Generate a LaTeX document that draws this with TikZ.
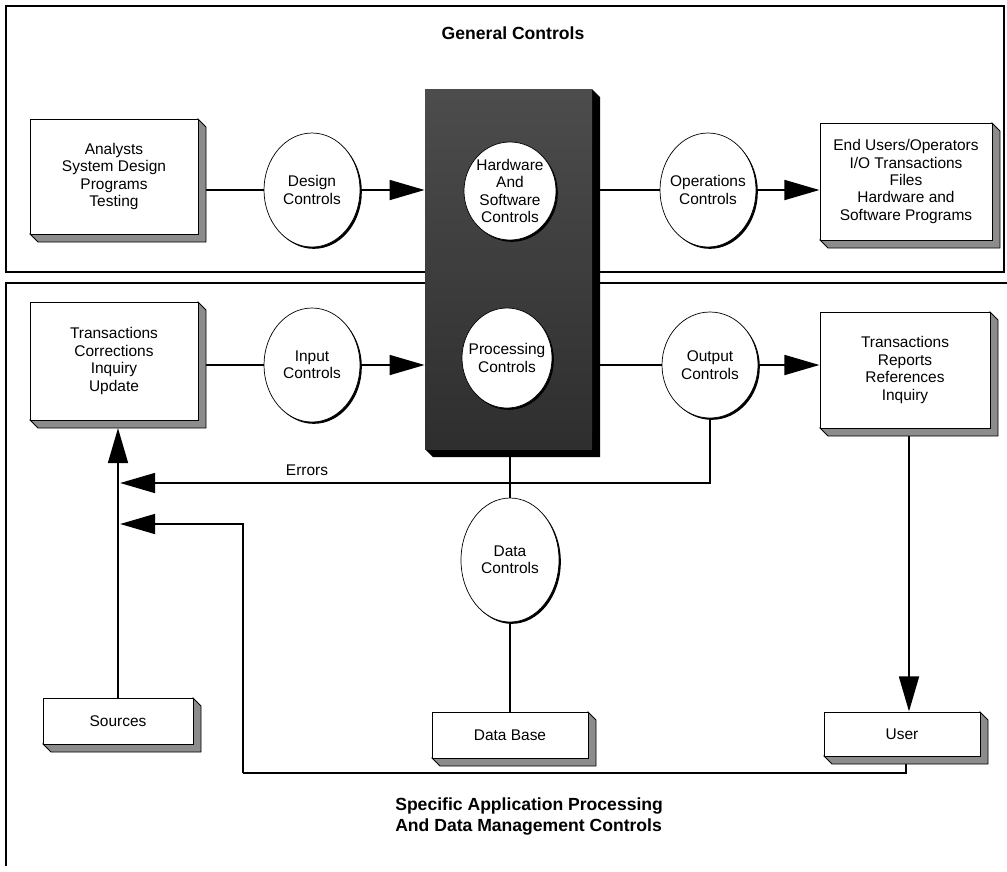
\documentclass[tikz,border=0pt]{standalone}
\usepackage{fontspec}
\setmainfont{Liberation Sans}
\usetikzlibrary{arrows.meta,shadows,shapes.geometric,backgrounds}
\def\pxu{0.025cm}
\tikzset{
  txt/.style={font=\fontsize{11}{12.4}\selectfont, align=center, inner sep=0pt},
  frontface/.style={draw=black, line width=0.6pt, fill=white, inner sep=0pt},
  sideface/.style={fill=black!45, draw=black, line width=0.6pt},
  ctl/.style={ellipse, draw=black, line width=0.5pt, fill=white, inner sep=0pt,
    drop shadow={shadow xshift=1.3pt, shadow yshift=-1.3pt, opacity=1, fill=black}},
  conn/.style={line width=2pt},
  arr/.style={line width=2pt, -{Triangle[length=25pt,width=14pt]}},
  frame/.style={line width=0.8pt},
  ttl/.style={font=\bfseries\fontsize{12.5}{15}\selectfont, inner sep=0pt},
}
\newcommand{\tdbox}[6]{%
  \filldraw[sideface] (#4,#3) -- (#4+8,#3+8) -- (#4+8,#5+8) -- (#2+8,#5+8) -- (#2,#5) -- (#4,#5) -- cycle;
  \node[frontface, minimum width={(#4-#2)*\pxu}, minimum height={(#5-#3)*\pxu}] (#1) at ({(#2+#4)/2},{(#3+#5)/2}) {};
  \node[txt] (#1-t) at (#1) {#6};
  \coordinate (#1-sb) at ({(#2+#4)/2+4},#5+8);
}
\newcommand{\ctlnode}[6]{%
  \node[ctl, minimum width={2*#4*\pxu}, minimum height={2*#5*\pxu}] (#1) at (#2,#3) {};
  \node[txt] (#1-t) at (#1) {#6};
}
\begin{document}
\begin{tikzpicture}[x=\pxu, y=-\pxu]
\useasboundingbox (0,0) rectangle (1007,871);

% 3D boxes
\tdbox{ana}{30}{119}{198}{234}{Analysts\\System Design\\Programs\\Testing}
\tdbox{endu}{820}{123}{992}{240}{End Users/Operators\\I/O Transactions\\Files\\Hardware and\\Software Programs}
\tdbox{trl}{30}{302}{198}{420}{Transactions\\Corrections\\Inquiry\\Update}
\tdbox{trr}{820}{312}{990}{428}{Transactions\\Reports\\References\\Inquiry}
\tdbox{src}{43}{698}{193}{744}{Sources}
\tdbox{db}{432}{712}{588}{758}{Data Base}
\tdbox{usr}{824}{712}{980}{756}{User}

% central dark block
\fill[black] (425,89) -- (592,89) -- (600,97) -- (600,457) -- (433,457) -- (425,449) -- cycle;
\node[inner sep=0pt, minimum width={167*\pxu}, minimum height={360*\pxu}, top color=black!70, bottom color=black!82] (cpu) at (508.5,269) {};

% control ellipses
\ctlnode{design}{312}{190}{48}{57}{Design\\Controls}
\ctlnode{hw}{510}{191}{46}{49}{Hardware\\And\\Software\\Controls}
\ctlnode{ops}{708}{190}{48}{57}{Operations\\Controls}
\ctlnode{input}{312}{365}{48}{57}{Input\\Controls}
\ctlnode{proc}{507}{358}{45}{50}{Processing\\Controls}
\ctlnode{outp}{710}{365}{48}{53}{Output\\Controls}
\ctlnode{datac}{510}{560}{49}{62}{Data\\Controls}

% titles and label
\node[ttl] (gc) at (513,33) {General Controls};
\node[ttl, align=left, anchor=north west] (sap) at (395,797) {Specific Application Processing\\And Data Management Controls};
\node[txt] (errl) at (307,470) {Errors};

\coordinate (errtip) at (120,483);
\coordinate (fbtip) at (120,524);
\coordinate (fbcorner) at (243,773);

\begin{pgfonlayer}{background}
\draw[frame] (6,6) rectangle (1004,272);
\draw[frame] (6,866) -- (6,283) -- (1007,283);
% row 1
\draw[conn] (ana.east |- design.west) -- (design.west);
\draw[arr] (design.east) -- (cpu.west |- design.east);
\draw[conn] (cpu.east |- ops.west) -- (ops.west);
\draw[arr] (ops.east) -- (endu.west |- ops.east);
% row 2
\draw[conn] (trl.east |- input.west) -- (input.west);
\draw[arr] (input.east) -- (cpu.west |- input.east);
\draw[conn] (cpu.east |- outp.west) -- (outp.west);
\draw[arr] (outp.east) -- (trr.west |- outp.east);
% errors and feedback
\draw[arr] (outp.south) |- (errtip);
\draw[arr] (src.north) -- (src.north |- trl-sb);
\draw[arr] (trr-sb) -- (trr-sb |- usr.north);
\draw[conn] (usr-sb) |- (fbcorner);
\draw[arr] (fbcorner) |- (fbtip);
% data
\draw[conn] (datac.north |- cpu.south) -- (datac.north);
\draw[conn] (datac.south) -- (db.north);
\end{pgfonlayer}
\end{tikzpicture}
\end{document}
